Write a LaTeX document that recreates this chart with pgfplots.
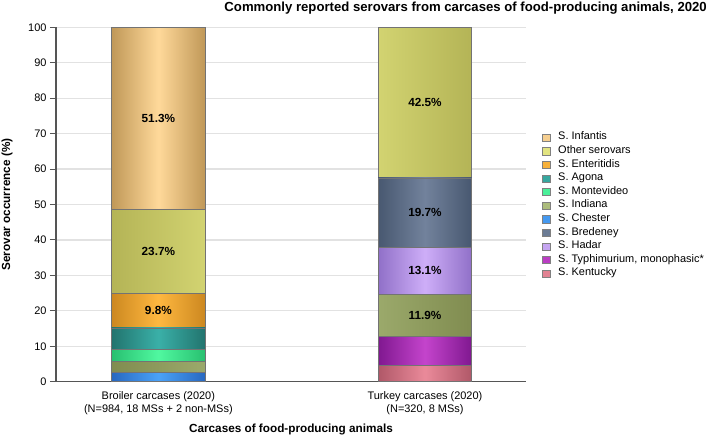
\documentclass[border=0pt]{standalone}
\usepackage{fontspec}
\setmainfont{Liberation Sans}
\usepackage{pgfplots}
\pgfplotsset{compat=1.18}
\definecolor{infM}{HTML}{FFD99A}\definecolor{infE}{HTML}{C09858}
\definecolor{othM}{HTML}{EEF08A}\definecolor{othE}{HTML}{B4B456}
\definecolor{entM}{HTML}{FFB840}\definecolor{entE}{HTML}{CC8820}
\definecolor{agoM}{HTML}{3AB0A8}\definecolor{agoE}{HTML}{22746E}
\definecolor{monM}{HTML}{50F8A0}\definecolor{monE}{HTML}{28C070}
\definecolor{indM}{HTML}{B4C484}\definecolor{indE}{HTML}{808C50}
\definecolor{cheM}{HTML}{4AA2F8}\definecolor{cheE}{HTML}{2868C0}
\definecolor{breM}{HTML}{72829C}\definecolor{breE}{HTML}{485870}
\definecolor{hadM}{HTML}{CEAEF8}\definecolor{hadE}{HTML}{9070C8}
\definecolor{typM}{HTML}{C444CC}\definecolor{typE}{HTML}{801890}
\definecolor{kenM}{HTML}{EA8A9A}\definecolor{kenE}{HTML}{B05868}
\definecolor{axgray}{HTML}{555555}
\definecolor{gridgray}{HTML}{E2E2E2}
\pgfplotsset{
  seg/.style n args={2}{left color=#2, right color=#2, middle color=#1, draw=black!55, line width=0.6pt},
  swatch/.style={legend image code/.code={\draw[##1] (0bp,-3.6bp) rectangle (7.5bp,3.6bp);}},
}
\newcommand{\fs}{\fontsize{11}{13.3}\selectfont}
\newcommand{\fl}{\fontsize{11.8}{14}\selectfont}
\begin{document}
\begin{tikzpicture}
\path[use as bounding box] (-56bp,-55.3bp) rectangle (653bp,381.7bp);
\begin{axis}[
  at={(0,0)}, anchor=south west, scale only axis,
  width=470bp, height=354.4bp,
  xmin=-0.384, xmax=1.379, ymin=0, ymax=100,
  ybar stacked, bar width=93.5bp,
  axis lines*=left,
  axis line style={axgray, line width=1.1pt},
  ytick={0,10,...,100},
  xtick={0,1},
  xticklabels={{Broiler carcases (2020)\\(N=984, 18 MSs + 2 non-MSs)},{Turkey carcases (2020)\\(N=320, 8 MSs)}},
  xticklabel style={align=center, font=\fs},
  yticklabel style={font=\fs},
  /pgf/number format/assume math mode=true,
  major x tick style={draw=none},
  major y tick style={axgray, line width=1pt},
  tick align=outside, major tick length=6bp,
  ymajorgrids, grid style={gridgray, line width=1.2pt},
  xlabel={\bfseries Carcases of food-producing animals},
  xlabel style={font=\fl, yshift=-2bp},
  ylabel={\bfseries Serovar occurrence (\%)},
  ylabel style={font=\fl, at={(axis description cs:-0.104,0.5)}, anchor=center},
  legend style={at={(1.028,0.714)}, anchor=north west, draw=none, fill=none, font=\fs,
    row sep=0pt, nodes={inner ysep=0pt, text height=9bp, text depth=4.6bp},
    /tikz/every odd column/.append style={column sep=6bp}},
  legend cell align=left,
]
% stacking order (bottom to top)
\addplot[seg={kenM}{kenE}, forget plot] coordinates {(0,0) (1,4.5)};
\addplot[seg={typM}{typE}, forget plot] coordinates {(0,0) (1,8.3)};
\addplot[seg={cheM}{cheE}, forget plot] coordinates {(0,2.6) (1,0)};
\addplot[seg={indM}{indE}, forget plot] coordinates {(0,3.1) (1,11.9)};
\addplot[seg={monM}{monE}, forget plot] coordinates {(0,3.5) (1,0)};
\addplot[seg={agoM}{agoE}, forget plot] coordinates {(0,6.0) (1,0)};
\addplot[seg={entM}{entE}, forget plot] coordinates {(0,9.8) (1,0)};
\addplot[seg={hadM}{hadE}, forget plot] coordinates {(0,0) (1,13.1)};
\addplot[seg={breM}{breE}, forget plot] coordinates {(0,0) (1,19.7)};
\addplot[seg={othM}{othE}, forget plot] coordinates {(0,23.7) (1,42.5)};
\addplot[seg={infM}{infE}, forget plot] coordinates {(0,51.3) (1,0)};
% legend
\addlegendimage{swatch, fill=infM!85!infE, draw=black!50}\addlegendentry{S. Infantis}
\addlegendimage{swatch, fill=othM!80!othE, draw=black!50}\addlegendentry{Other serovars}
\addlegendimage{swatch, fill=entM!85!entE, draw=black!50}\addlegendentry{S. Enteritidis}
\addlegendimage{swatch, fill=agoM!85!agoE, draw=black!50}\addlegendentry{S. Agona}
\addlegendimage{swatch, fill=monM!85!monE, draw=black!50}\addlegendentry{S. Montevideo}
\addlegendimage{swatch, fill=indM!85!indE, draw=black!50}\addlegendentry{S. Indiana}
\addlegendimage{swatch, fill=cheM!85!cheE, draw=black!50}\addlegendentry{S. Chester}
\addlegendimage{swatch, fill=breM!85!breE, draw=black!50}\addlegendentry{S. Bredeney}
\addlegendimage{swatch, fill=hadM!85!hadE, draw=black!50}\addlegendentry{S. Hadar}
\addlegendimage{swatch, fill=typM!85!typE, draw=black!50}\addlegendentry{S. Typhimurium, monophasic*}
\addlegendimage{swatch, fill=kenM!85!kenE, draw=black!50}\addlegendentry{S. Kentucky}
% segment label positions
\coordinate (b1) at (axis cs:0,20.1);
\coordinate (b2) at (axis cs:0,36.85);
\coordinate (b3) at (axis cs:0,74.35);
\coordinate (t1) at (axis cs:1,18.75);
\coordinate (t2) at (axis cs:1,31.25);
\coordinate (t3) at (axis cs:1,47.65);
\coordinate (t4) at (axis cs:1,78.75);
\end{axis}
\begin{scope}[every node/.style={font=\bfseries\fl}]
\node at (b1) {9.8\%};
\node at (b2) {23.7\%};
\node at (b3) {51.3\%};
\node at (t1) {11.9\%};
\node at (t2) {13.1\%};
\node at (t3) {19.7\%};
\node at (t4) {42.5\%};
\end{scope}
\node[anchor=east, font=\bfseries\fontsize{13.2}{15}\selectfont, inner sep=0pt] at (651bp,373.2bp) {Commonly reported serovars from carcases of food-producing animals, 2020};
\end{tikzpicture}
\end{document}
